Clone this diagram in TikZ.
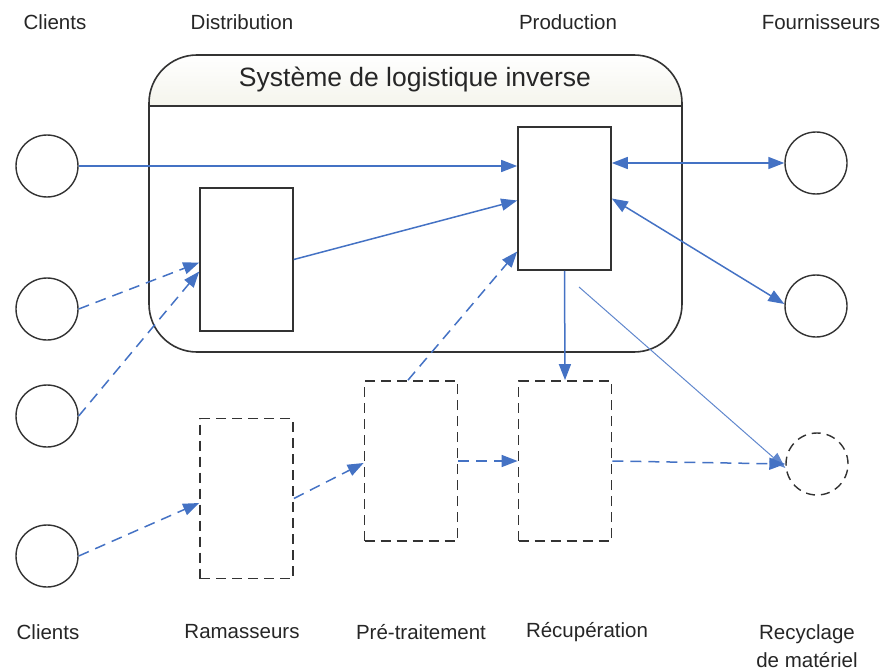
\documentclass[tikz,border=0pt]{standalone}
\usepackage{fontspec}
\setmainfont{Liberation Sans}
\usetikzlibrary{arrows.meta}
\definecolor{flow}{HTML}{4472C4}
\definecolor{edge}{HTML}{333333}
\definecolor{titlebg}{HTML}{F4F4EC}
\tikzset{
  actor/.style={circle,draw=edge,line width=1.4pt,minimum size=62pt,inner sep=0pt},
  actordash/.style={actor,dash pattern=on 9pt off 6pt},
  block/.style={rectangle,draw=edge,line width=1.6pt,minimum width=93pt,minimum height=143pt,inner sep=0pt},
  blockdash/.style={block,line width=1.8pt,minimum height=160pt,dash pattern=on 10pt off 6pt},
  lbl/.style={font=\fontsize{20.5}{28}\selectfont,text=black!85,align=center},
  flowline/.style={draw=flow,line width=1.5pt,-{Triangle[length=16pt,width=12pt]}},
  flowdash/.style={flowline,dash pattern=on 11pt off 7pt},
  flowboth/.style={draw=flow,line width=1.5pt,{Triangle[length=16pt,width=12pt]}-{Triangle[length=16pt,width=12pt]}},
  flowthin/.style={draw=flow!85,line width=1pt,-{Triangle[length=16pt,width=12pt]}}
}
\begin{document}
\begin{tikzpicture}[x=1pt,y=-1pt]
\useasboundingbox (0,0) rectangle (893,671);
% system frame
\begin{scope}
  \clip[rounded corners=48pt] (149,55) rectangle (682,352);
  \shade[top color=white,bottom color=titlebg] (149,55) rectangle (682,106);
\end{scope}
\draw[edge,line width=1.6pt,rounded corners=48pt] (149,55) rectangle (682,352);
\node[draw=none,minimum width=533pt,minimum height=297pt,inner sep=0pt] (sys) at (415.5,203.5) {};
\draw[edge,line width=1.6pt] (149,106) -- (682,106);
\node[lbl,font=\fontsize{26.5}{30}\selectfont] (title) at (415,79) {Système de logistique inverse};

% actors
\node[actor] (c1) at (47,166) {};
\node[actor] (c2) at (47,309) {};
\node[actor] (c3) at (47,416) {};
\node[actor] (c4) at (47,556) {};
\node[actor] (f1) at (816,163) {};
\node[actor] (f2) at (816,306) {};
\node[actordash] (recy) at (817,464) {};

% blocks
\node[block] (dist) at (246.5,259.5) {};
\node[block] (prod) at (564.5,198.5) {};
\node[blockdash] (ram) at (246.5,498.5) {};
\node[blockdash] (pre) at (411,461) {};
\node[blockdash] (rec) at (565,461) {};

% labels
\node[lbl] (lc1) at (55,22) {Clients};
\node[lbl] (ld) at (242,22) {Distribution};
\node[lbl] (lp) at (568,22) {Production};
\node[lbl] (lf) at (821,22) {Fournisseurs};
\node[lbl] (lc2) at (48,632) {Clients};
\node[lbl] (lr) at (242,632) {Ramasseurs};
\node[lbl] (lpt) at (421,632) {Pré-traitement};
\node[lbl] (lrc) at (587,632) {Récupération};
\node[lbl] (lrm) at (807,646) {Recyclage\\de matériel};

% connectors
\draw[flowline] (c1.east) -- (prod.west |- c1.east);
\draw[flowline] (dist.east) -- ([yshift=-2pt]prod.west);
\draw[flowdash] (c2.east) -- ([yshift=-3pt]dist.west);
\draw[flowdash] (c3.east) -- ([yshift=-12pt]dist.west);
\draw[flowdash] ([xshift=-3pt]pre.north) -- ([yshift=-53pt]prod.west);
\draw[flowboth] (prod.east |- f1.west) -- (f1.west);
\draw[flowboth] (prod.east) -- ([yshift=2pt]f2.west);
\draw[flowline] (prod.south) -- (rec.north);
\coordinate (thinstart) at (579,287);
\draw[flowthin] (thinstart) -- ([yshift=-4pt]recy.west);
\draw[flowdash] (c4.east) -- ([yshift=-4.5pt]ram.west);
\draw[flowdash] (ram.east) -- ([yshift=-2pt]pre.west);
\draw[flowdash] (pre.east) -- (rec.west);
\draw[flowdash] (rec.east) -- (recy.west);
\end{tikzpicture}
\end{document}
